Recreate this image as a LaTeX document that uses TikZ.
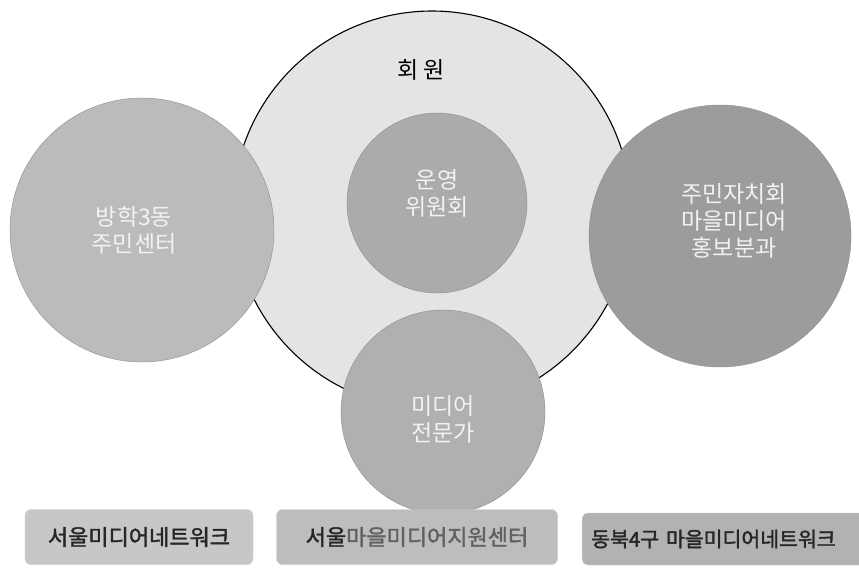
\documentclass[tikz,border=0pt]{standalone}
\usepackage{fontspec}
\newfontfamily\kr{Noto Sans CJK KR}
\newfontfamily\krbold[FakeBold=1.8]{Noto Sans CJK KR}

\definecolor{memberfill}{HTML}{E4E4E4}
\definecolor{dongfill}{HTML}{BBBBBB}
\definecolor{councilfill}{HTML}{9C9C9C}
\definecolor{boardfill}{HTML}{ABABAB}
\definecolor{expertfill}{HTML}{B0B0B0}
\definecolor{circtext}{HTML}{F2F2F2}

\tikzstyle{member}=[circle,draw=black,line width=1.1pt,fill=memberfill,inner sep=0pt]
\tikzstyle{group}=[circle,draw=black!45,line width=0.4pt,inner sep=0pt]
\tikzstyle{grouptext}=[align=center,text=circtext,inner sep=0pt,font=\kr\fontsize{23}{27}\selectfont]
\tikzstyle{partner}=[rectangle,rounded corners=6pt,draw=black!20,minimum height=55pt,text=black!85,font=\krbold\fontsize{22}{24}\selectfont]

\begin{document}
\begin{tikzpicture}[x=1pt,y=-1pt]

   \clip (0,0) rectangle (859,568);
   \fill[white] (0,0) rectangle (859,568);

   \node[member,minimum size=398pt] (members) at (432,210) {};
   \node[font=\kr\fontsize{23}{26}\selectfont] (memberlabel) at (421,70) {회 원};

   \node[group,fill=dongfill,minimum size=264pt] (dongoffice) at (142,230) {};
   \node[group,fill=councilfill,minimum size=262pt] (council) at (720,236) {};
   \node[group,fill=boardfill,minimum size=180pt] (board) at (437,203) {};
   \node[group,fill=expertfill,minimum size=204pt] (expert) at (443,412) {};

   \node[grouptext] (dongname) at ([xshift=-8pt]dongoffice.center) {방학3동\\주민센터};
   \node[grouptext] (councilname) at ([xshift=14pt,yshift=15pt]council.center) {주민자치회\\마을미디어\\홍보분과};
   \node[grouptext] (boardname) at ([yshift=10pt]board.center) {운영\\위원회};
   \node[grouptext] (expertname) at ([yshift=-7pt]expert.center) {미디어\\전문가};

   \node[partner,fill=black!22,minimum width=228pt] (seoulnet) at (139,537) {서울미디어네트워크};
   \node[partner,fill=black!26,minimum width=281pt,text=black!62] (seoulcenter) at (417,537) {{\color{black!85}서울}마을미디어지원센터};
   \node[partner,fill=black!30,anchor=west,minimum height=52pt,inner xsep=9pt,text width=272pt,align=left,
         font=\krbold\fontsize{20.5}{24}\selectfont] (dongbuknet) at (582,539) {동북4구 마을미디어네트워크};
\end{tikzpicture}
\end{document}
